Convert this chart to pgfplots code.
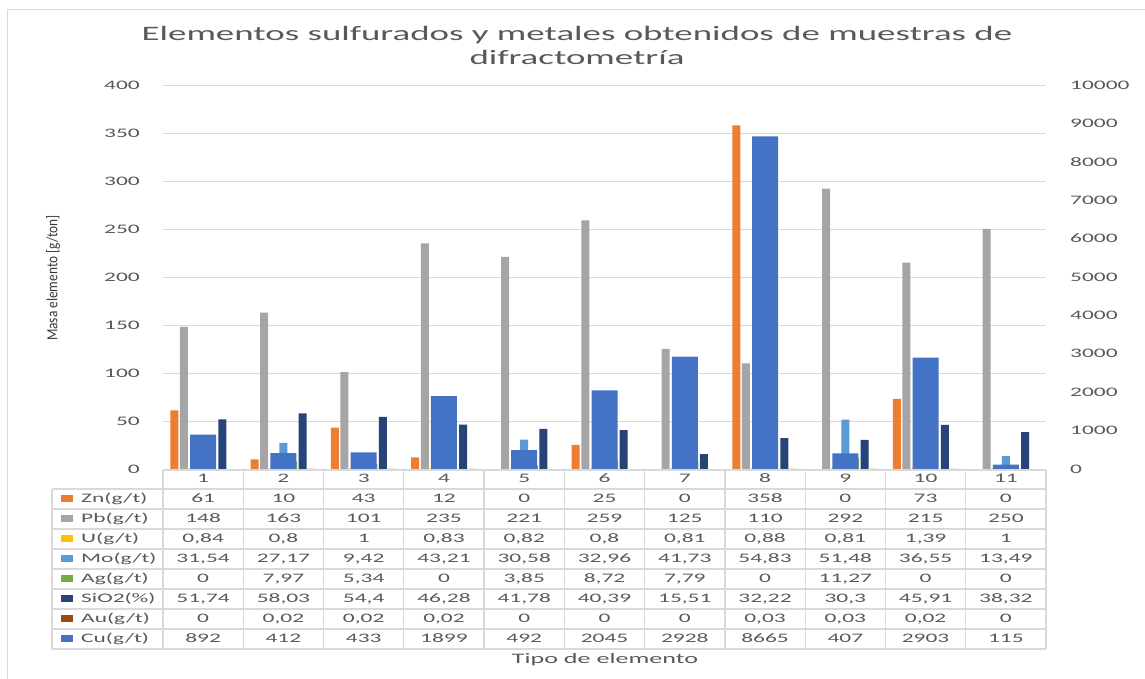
\documentclass[border=0pt]{standalone}
\usepackage{fontspec}
\setmainfont{Carlito}
\newfontfamily\wfont[FakeStretch=1.8]{Carlito}
\newfontfamily\nfont[FakeStretch=0.86]{Carlito}
\usepackage{pgfplots}
\usepackage{pgfplotstable}
\pgfplotsset{compat=1.18}

\definecolor{txt}{HTML}{595959}
\definecolor{gridc}{HTML}{D9D9D9}
\definecolor{cZn}{HTML}{ED7D31}
\definecolor{cPb}{HTML}{A5A5A5}
\definecolor{cU}{HTML}{FFC000}
\definecolor{cMo}{HTML}{5B9BD5}
\definecolor{cAg}{HTML}{70AD47}
\definecolor{cSi}{HTML}{264478}
\definecolor{cAu}{HTML}{9E480E}
\definecolor{cCu}{HTML}{4472C4}

% one row per sample
\pgfplotstableread{
x  Zn  Pb  U     Mo     Ag     SiO   Au    Cu
1  61  148 0.84  31.54  0      51.74 0     892
2  10  163 0.8   27.17  7.97   58.03 0.02  412
3  43  101 1     9.42   5.34   54.4  0.02  433
4  12  235 0.83  43.21  0      46.28 0.02  1899
5  0   221 0.82  30.58  3.85   41.78 0     492
6  25  259 0.8   32.96  8.72   40.39 0     2045
7  0   125 0.81  41.73  7.79   15.51 0     2928
8  358 110 0.88  54.83  0      32.22 0.03  8665
9  0   292 0.81  51.48  11.27  30.3  0.03  407
10 73  215 1.39  36.55  0      45.91 0.02  2903
11 0   250 1     13.49  0      38.32 0     115
}\data

\newcommand\tfont{\wfont\fontsize{13}{15}\selectfont}

% a bar series on the left axis: column, colour, slot (-3..3)
\newcommand\barseries[3]{%
  \addplot[ybar, bar width=8pt, bar shift={#3*9.6pt}, fill=#2, draw=none,
    unbounded coords=discard, y filter/.expression={y==0 ? nan : y}]
    table[x=x, y=#1] {\data};}
% a row of the data table: column, pixel distance below the axis
\newcommand\tablerow[2]{%
  \addplot[draw=none, mark=none, nodes near coords, point meta=explicit,
    every node near coord/.append style={anchor=center, font=\tfont,
      text=txt, inner sep=0pt, text height=8.5pt, text depth=1.5pt}]
    table[x=x, y expr={-#2/0.96}, meta=#1] {\data};}

\begin{document}
\begin{tikzpicture}[x=1pt, y=1pt]
\path[use as bounding box] (0,0) rectangle (1145,679);
\draw[gridc, line width=1pt] (7,0) -- (7,669) -- (1145,669);

\begin{axis}[
  at={(163pt,210pt)}, anchor=south west,
  scale only axis, width=883pt, height=384pt,
  xmin=0.5, xmax=11.5, ymin=0, ymax=400,
  xtick=\empty, ytick={0,50,...,400},
  ymajorgrids, grid style={gridc, line width=0.9pt},
  axis line style={draw=none}, tick style={draw=none},
  clip=false,
  yticklabel style={font=\tfont, text=txt, inner sep=0pt, xshift=-23pt},
  /pgf/number format/.cd, use comma, fixed, precision=2, 1000 sep={},
  assume math mode=true,
]
\barseries{Zn}{cZn}{-3}
\barseries{Pb}{cPb}{-2}
\barseries{U}{cU}{-1}
\barseries{Mo}{cMo}{0}
\barseries{Ag}{cAg}{1}
\barseries{SiO}{cSi}{2}
\barseries{Au}{cAu}{3}

\tablerow{x}{10.5}
\tablerow{Zn}{30}
\tablerow{Pb}{50}
\tablerow{U}{70}
\tablerow{Mo}{90}
\tablerow{Ag}{110}
\tablerow{SiO}{130}
\tablerow{Au}{150}
\tablerow{Cu}{170}
\end{axis}

\begin{axis}[
  at={(163pt,210pt)}, anchor=south west,
  scale only axis, width=883pt, height=384pt,
  xmin=0.5, xmax=11.5, ymin=0, ymax=10000,
  hide x axis, axis y line*=right,
  ytick={0,1000,...,10000}, scaled y ticks=false,
  axis line style={draw=none}, tick style={draw=none},
  yticklabel style={font=\tfont, text=txt, inner sep=0pt, xshift=24pt},
  /pgf/number format/.cd, fixed, 1000 sep={}, assume math mode=true,
]
\addplot[ybar, bar width=26pt, bar shift=0pt, fill=cCu, draw=none]
  table[x=x, y=Cu] {\data};
\end{axis}

% data table grid
\begin{scope}[gridc, line width=1.3pt]
  \draw (163,209) -- (1046,209);
  \foreach \r in {0,...,8} \draw (52,190-20*\r) -- (1046,190-20*\r);
  \draw (52,190) -- (52,30);
  \foreach \c in {0,...,11} \draw (163+80.27*\c,209) -- (163+80.27*\c,30);
\end{scope}

% legend column of the data table
\foreach \name/\col [count=\i from 0] in
  {{Zn(g/t)}/cZn, {Pb(g/t)}/cPb, {U(g/t)}/cU, {Mo(g/t)}/cMo, {Ag(g/t)}/cAg,
   {SiO2(\%)}/cSi, {Au(g/t)}/cAu, {Cu(g/t)}/cCu} {
  \fill[\col] (61,180-20*\i-3.5) rectangle (73,180-20*\i+3.5);
  \node[anchor=west, inner sep=0pt, font=\tfont, text=txt,
        text height=8.5pt, text depth=2pt] at (81,180-20*\i) {\name};
}

\node[font=\wfont\fontsize{20.5}{24}\selectfont, text=txt, align=center]
  at (577,634) {Elementos sulfurados y metales obtenidos de muestras de\\difractometría};
\node[rotate=90, font=\nfont\fontsize{15.5}{17}\selectfont, text=black!78]
  at (53,401) {Masa elemento [g/ton]};
\node[font=\wfont\fontsize{14.5}{17}\selectfont, text=txt]
  at (605,19) {Tipo de elemento};
\end{tikzpicture}
\end{document}
